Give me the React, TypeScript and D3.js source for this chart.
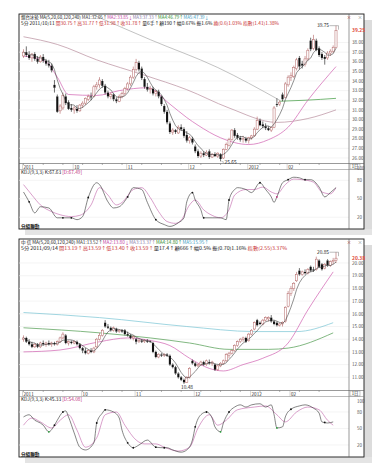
import React from "react";
import * as d3 from "d3";

// ---------------- TOP CHART DATA ----------------
const topOpen = [
  36.6,37.0,36.7,36.4,36.8,36.3,36.0,36.5,36.1,35.8,
  35.6,33.6,32.4,30.9,31.2,32.4,31.8,31.2,31.0,31.1,
  30.9,31.5,31.7,32.1,32.4,32.4,33.4,33.6,34.0,33.5,
  32.8,32.4,32.6,32.1,31.9,32.4,32.7,33.2,33.7,34.4,
  35.2,35.9,35.3,34.2,33.4,33.1,33.2,32.7,32.9,32.4,
  31.4,30.8,29.6,28.7,28.9,28.6,29.2,29.0,28.4,27.8,
  28.0,27.2,26.7,26.2,26.5,26.3,26.7,26.1,26.4,26.2,
  26.4,26.0,26.9,27.3,27.9,28.9,28.4,28.1,27.9,28.0,
  27.8,28.1,28.3,29.0,29.9,29.5,29.3,29.1,28.9,29.2,
  31.6,31.6,32.6,32.3,33.6,34.4,34.5,35.3,36.4,35.8,
  35.7,36.3,38.2,37.4,38.2,37.4,36.8,36.5,36.4,36.9,37.1,37.5];
const topHigh = [
  37.3,37.6,37.1,36.9,37.0,36.6,36.7,36.8,36.3,36.2,
  35.8,34.1,32.6,31.6,32.8,32.7,32.0,31.6,31.4,31.5,
  31.6,31.9,32.3,32.6,32.8,33.6,33.9,34.4,34.2,33.7,
  33.0,32.8,32.7,32.3,32.6,32.9,33.4,33.9,34.6,35.5,
  36.3,36.1,35.5,34.4,33.8,33.5,33.4,33.1,33.1,32.5,
  31.6,31.0,29.8,29.1,29.0,29.4,29.5,29.2,28.8,28.3,
  28.2,27.4,26.9,26.7,26.7,26.8,26.9,26.5,26.6,26.6,
  26.5,27.0,27.6,28.1,29.0,29.1,28.6,28.3,28.3,28.2,
  28.2,28.4,29.2,30.3,30.1,29.8,29.6,29.3,29.3,31.4,
  32.2,32.0,32.8,33.9,34.6,34.9,35.6,36.4,36.6,36.1,
  36.6,37.4,38.5,38.8,38.4,37.6,37.0,36.7,37.1,37.3,37.7,39.75];
const topLow = [
  36.4,36.5,36.2,36.0,36.1,35.8,35.9,35.9,35.6,35.4,
  34.9,32.8,30.7,30.6,31.0,31.5,31.0,30.8,30.6,30.7,
  30.8,31.2,31.5,31.9,32.0,32.3,33.1,33.3,33.3,32.6,
  32.2,32.1,31.9,31.7,31.8,32.2,32.5,33.0,33.5,34.2,
  35.0,35.0,34.1,33.2,32.9,32.7,32.5,32.4,32.2,31.4,
  30.6,29.5,28.5,28.4,28.5,28.5,28.8,28.1,27.6,27.5,
  27.4,26.5,26.0,26.0,26.1,26.2,25.9,26.0,26.1,26.0,
  25.65,25.9,26.8,27.2,27.8,28.1,27.9,27.7,27.6,27.6,
  27.5,27.9,28.2,28.9,29.3,29.1,28.9,28.8,28.7,29.1,
  31.3,31.4,31.9,32.2,33.4,34.0,34.3,35.1,35.2,35.3,
  35.5,36.1,37.1,37.2,37.1,36.5,36.2,35.7,36.2,36.6,36.9,37.4];
const topClose = [
  37.0,36.7,36.4,36.8,36.3,36.0,36.5,36.1,35.8,35.6,
  35.1,33.3,30.8,31.4,32.5,31.7,31.1,31.0,31.2,30.9,
  31.5,31.7,32.2,32.4,32.3,33.4,33.6,34.1,33.5,32.8,
  32.4,32.6,32.1,31.9,32.4,32.7,33.2,33.7,34.4,35.2,
  35.9,35.2,34.3,33.4,33.1,33.2,32.7,32.9,32.4,31.6,
  30.8,29.7,28.7,28.9,28.7,29.2,29.0,28.3,27.8,28.1,
  27.6,26.7,26.2,26.5,26.3,26.6,26.1,26.4,26.2,26.5,
  25.9,26.9,27.4,27.9,28.9,28.3,28.1,27.9,28.0,27.8,
  28.1,28.3,29.0,29.9,29.4,29.3,29.1,28.9,29.2,31.2,
  31.5,31.8,32.1,33.7,34.4,34.6,35.4,36.2,35.5,35.6,
  36.3,37.2,37.3,38.3,37.2,36.7,36.4,36.3,36.9,37.1,37.5,39.25];

const topMA20: [number, number][] = [[0,36.6],[8,36.0],[12,34.4],[16,32.6],[26,32.5],[34,33.0],[44,33.3],[52,31.6],[58,30.2],[62,29.4],[70,28.1],[80,27.4],[87,27.9],[94,29.2],[101,32.0],[111,35.5]];
const topMA60: [number, number][] = [[0,38.6],[12,37.8],[26,36.2],[43,34.6],[58,33.1],[73,31.2],[90,29.7],[101,30.1],[111,31.0]];
const topMA120: [number, number][] = [[23,41.1],[45,38.3],[69,35.4],[91,32.0]];
const topMA240: [number, number][] = [[91,31.9],[100,32.0],[111,32.2]];

const topK: [number, number][] = [[0,61],[2,45],[4,27],[6,37],[9,35],[12,19],[14,19],[17,19],[19,16],[21,21],[23,52],[26,76],[27,73],[30,45],[32,35],[34,37],[37,53],[39,68],[42,65],[44,44],[47,16],[50,8],[52,5],[55,11],[57,19],[58,45],[60,60],[61,48],[63,32],[64,19],[67,19],[70,19],[72,16],[73,48],[75,65],[76,68],[79,65],[81,60],[84,76],[86,65],[88,53],[89,44],[90,53],[92,76],[94,81],[96,85],[98,84],[100,81],[102,81],[105,69],[107,53],[109,60],[111,68]];
const topD: [number, number][] = [[0,73],[3,56],[6,40],[10,29],[13,24],[17,21],[20,23],[24,40],[27,68],[30,56],[33,40],[35,44],[39,65],[42,68],[45,52],[48,29],[51,13],[54,10],[56,15],[59,40],[61,48],[64,32],[67,23],[70,19],[73,32],[75,56],[79,65],[82,65],[85,69],[88,61],[90,58],[93,73],[96,82],[99,81],[103,77],[106,61],[109,58],[111,68]];
const topMarks = [2,14,17,23,37,47,60,64,73,84,94,100];
const topMarksAlt = [90];

const topPriceTicks = [26,27,28,29,30,31,32,33,34,35,36,37,38];
const topDates: [number, string][] = [[0,"2011"],[18,"10"],[37,"11"],[59,"12"],[80,"2012"],[94,"02"]];

// ---------------- BOTTOM CHART DATA ----------------
const botOpen = [
  14.0,14.1,13.8,13.6,13.4,13.6,13.4,13.7,13.6,13.7,
  13.6,13.7,13.6,13.8,14.1,14.3,13.7,13.8,13.7,13.8,
  13.6,13.3,13.1,12.9,13.1,13.0,13.4,14.0,14.3,15.3,
  15.0,14.9,14.7,14.8,14.6,14.7,14.7,14.4,14.3,14.1,
  14.0,13.8,13.9,13.8,13.9,13.85,13.7,13.0,12.6,12.8,
  12.7,12.8,12.7,12.0,11.8,11.3,11.0,10.8,10.6,11.0,
  12.3,12.1,11.9,12.0,12.2,12.0,12.2,12.1,12.0,11.6,
  11.9,12.1,12.3,12.7,12.9,13.1,13.5,13.8,14.0,14.1,
  13.9,14.4,14.8,15.5,15.3,15.2,15.5,15.6,15.7,15.4,
  15.3,15.1,15.2,15.4,16.6,17.6,18.0,18.6,19.4,19.1,
  19.3,19.2,19.7,19.5,19.5,20.2,19.9,19.6,20.2,19.8,20.1,20.2];
const botHigh = [
  14.3,14.2,14.0,13.8,13.7,13.7,13.8,13.9,13.8,13.9,
  13.8,13.8,13.9,14.2,14.55,14.4,13.9,13.9,13.9,13.9,
  13.7,13.4,13.3,13.2,13.3,13.4,14.1,14.5,14.8,15.5,
  15.2,15.0,15.0,14.9,14.8,14.8,14.8,14.6,14.4,14.3,
  14.1,14.0,14.0,14.0,14.0,13.9,13.8,13.1,12.9,12.9,
  12.9,12.9,12.8,12.1,11.9,11.4,11.1,10.9,11.1,11.8,
  12.4,12.2,12.1,12.3,12.3,12.4,12.4,12.3,12.1,12.0,
  12.2,12.4,12.9,13.0,13.2,13.6,13.9,14.1,14.2,14.2,
  14.5,14.8,15.4,15.6,15.4,15.6,15.8,15.8,15.9,15.5,
  15.4,15.3,15.4,16.6,17.8,18.2,18.5,19.3,19.6,19.4,
  19.5,19.6,19.8,19.7,20.5,20.3,20.0,20.0,20.3,20.2,20.4,20.85];
const botLow = [
  13.8,13.7,13.5,13.3,13.3,13.3,13.3,13.5,13.4,13.5,
  13.4,13.5,13.5,13.7,14.0,13.6,13.5,13.6,13.6,13.5,
  13.2,12.9,12.8,12.8,12.9,12.9,13.3,13.9,14.2,14.9,
  14.8,14.6,14.6,14.5,14.5,14.5,14.3,14.2,14.0,13.9,
  13.6,13.7,13.7,13.7,13.7,13.7,12.9,12.5,12.5,12.6,
  12.6,12.6,11.9,11.7,11.2,10.9,10.7,10.48,10.55,10.9,
  12.0,11.8,11.8,11.9,11.9,11.9,12.0,11.9,11.5,11.5,
  11.8,12.0,12.2,12.5,12.8,13.0,13.4,13.7,13.8,13.7,
  13.8,14.3,14.7,15.0,15.1,15.1,15.4,15.4,15.3,15.1,
  15.0,15.0,15.0,15.3,16.5,17.4,17.8,18.5,19.0,19.0,
  19.1,19.1,19.3,19.3,19.4,19.6,19.4,19.5,19.7,19.7,19.9,20.0];
const botClose = [
  14.1,13.8,13.6,13.4,13.6,13.4,13.7,13.6,13.7,13.6,
  13.7,13.6,13.8,14.1,14.4,13.7,13.8,13.7,13.8,13.6,
  13.3,13.1,12.9,13.1,13.0,13.3,14.0,14.3,14.7,15.0,
  14.9,14.7,14.9,14.6,14.7,14.6,14.4,14.3,14.1,14.2,
  13.8,13.9,13.8,13.9,13.8,13.8,13.0,12.6,12.8,12.7,
  12.8,12.7,12.0,11.8,11.3,11.0,10.8,10.6,11.0,11.7,
  12.1,11.9,12.0,12.2,12.0,12.3,12.1,12.2,11.6,11.9,
  12.1,12.3,12.8,12.9,13.1,13.5,13.8,14.0,14.1,13.8,
  14.4,14.7,15.3,15.1,15.2,15.5,15.7,15.7,15.4,15.2,
  15.1,15.2,15.3,16.5,17.6,18.0,18.4,19.1,19.1,19.3,
  19.2,19.5,19.4,19.4,20.3,19.7,19.5,19.9,19.8,20.1,20.2,20.38];

const botMA20: [number, number][] = [[0,13.0],[13,13.15],[27,13.8],[37,14.1],[45,13.9],[52,13.5],[59,12.5],[66,11.7],[71,11.5],[78,12.0],[85,12.5],[94,13.7],[101,16.3],[110,19.3]];
const botMA60: [number, number][] = [[0,14.9],[27,14.5],[45,14.1],[59,13.7],[73,13.2],[87,13.2],[94,13.3],[110,14.5]];
const botMA120: [number, number][] = [[0,16.1],[27,15.7],[58,15.0],[82,14.6],[97,14.6],[110,15.3]];

const botK: [number, number][] = [[0,71],[2,75],[4,65],[6,60],[7,56],[9,44],[11,56],[12,65],[14,80],[15,82],[16,71],[18,42],[20,16],[22,11],[25,24],[26,60],[28,78],[29,84],[32,80],[34,69],[35,47],[37,24],[39,15],[41,20],[44,29],[47,16],[50,15],[51,15],[53,11],[56,7],[58,11],[60,29],[61,53],[63,75],[65,80],[67,69],[68,53],[70,44],[71,60],[73,80],[75,89],[77,93],[79,89],[81,93],[84,95],[86,89],[88,93],[89,75],[90,51],[92,53],[93,71],[95,85],[98,91],[100,93],[103,87],[105,78],[106,62],[108,60],[110,62]];
const botD: [number, number][] = [[0,56],[3,69],[6,62],[10,51],[13,65],[16,75],[19,47],[22,16],[26,33],[29,75],[33,80],[36,56],[40,29],[43,22],[47,22],[50,16],[55,9],[59,16],[62,51],[66,75],[69,56],[72,65],[76,84],[82,89],[86,91],[90,75],[93,62],[97,80],[101,89],[105,84],[108,65],[110,56]];
const botMarks = [11,14,26,29,37,39,47,50,61,65,73,95,107];
const botMarksAlt = [9,70,90];

const botPriceTicks = [11,12,13,14,15,16,17,18,19,20];
const botDates: [number, string][] = [[0,"2011"],[21,"10"],[40,"11"],[61,"12"],[81,"2012"],[95,"02"]];

const FONT = "'Noto Sans CJK TC','DejaVu Sans',sans-serif";
const RED = "#c83030";

type Seg = [string, string];

const topHeader1: Seg[] = [["烟台冰轮 ", "#111"], ["MA(5,20,60,120,240) ", "#111"], ["MA1:32.05↑", "#333"], ["MA2:33.85↓", "#c040a0"], ["MA3:37.33↑", "#8a7aa8"], ["MA4:46.79↑", "#2a8a2a"], ["MA5:47.39↓", "#3a9ac0"]];
const topHeader2: Seg[] = [["5分 2011/10/11 ", "#111"], ["開30.75↑", RED], ["高31.77↑", RED], ["低31.98↑", RED], ["收31.78↑", RED], ["量6手↑", "#111"], ["額190↑", "#111"], ["幅0.67% ", "#111"], ["振1.6% ", "#111"], ["換(0.6)1.03% ", RED], ["指數(1.41)1.38%", RED]];
const botHeader1: Seg[] = [["中 信 ", "#111"], ["MA(5,20,60,120,240) ", "#111"], ["MA1:13.52↑", "#333"], ["MA2:13.80↓", "#c040a0"], ["MA3:13.37↑", "#8a7aa8"], ["MA4:14.80↑", "#2a8a2a"], ["MA5:15.95↑", "#3a9ac0"]];
const botHeader2: Seg[] = [["5分 2011/09/14 ", "#111"], ["開13.19↑", RED], ["高13.59↑", RED], ["低13.40↑", RED], ["收13.59↑", RED], ["量17.4↑", "#111"], ["額666↑", "#111"], ["幅0.5% ", "#111"], ["振(0.70)1.16% ", "#111"], ["指數(2.55)3.37%", RED]];

const topCfg = {
  id: "a", open: topOpen, high: topHigh, low: topLow, close: topClose,
  priceDomain: [26, 39], priceRange: [158, 32.9], priceTicks: topPriceTicks,
  lastLabel: "39.25", last: 39.25,
  hiIdx: 111, hiLabel: "39.75", loIdx: 70, loLabel: "25.65", loBelow: false,
  top: 14, bottom: 229, dTop: 163.5, dBot: 169.5, kdjRange: [229.5, 168],
  kdjTicks: [20, 50, 80, 100],
  K: topK, D: topD, marks: topMarks, marksAlt: topMarksAlt, altColor: "#c03080",
  mas: [
    { pts: topMA120, color: "#a8a8a8" },
    { pts: topMA240, color: "#3c9a3c" },
    { pts: topMA60, color: "#b88c9c" },
    { pts: topMA20, color: "#d060b0" },
  ],
  dates: topDates, h1: topHeader1, h2: topHeader2, h1w: 188, h2w: 258,
  kLabel: "K:67.63", dLabel: "D:67.49",
};

const botCfg = {
  id: "b", open: botOpen, high: botHigh, low: botLow, close: botClose,
  priceDomain: [11, 20], priceRange: [377.3, 263], priceTicks: botPriceTicks,
  lastLabel: "20.38", last: 20.38,
  hiIdx: 111, hiLabel: "20.85", loIdx: 57, loLabel: "10.48", loBelow: true,
  top: 239, bottom: 457, dTop: 390.5, dBot: 396.5, kdjRange: [456, 401],
  kdjTicks: [20, 50, 80, 100],
  K: botK, D: botD, marks: botMarks, marksAlt: botMarksAlt, altColor: "#2a9a3a",
  mas: [
    { pts: botMA120, color: "#78c4d4" },
    { pts: botMA60, color: "#4c9a4c" },
    { pts: botMA20, color: "#d060b0" },
  ],
  dates: botDates, h1: botHeader1, h2: botHeader2, h1w: 188, h2w: 266,
  kLabel: "K:45.33", dLabel: "D:54.08",
};

function valAt(pts: [number, number][], i: number) {
  for (let j = 0; j < pts.length - 1; j++) {
    const a = pts[j], b = pts[j + 1];
    if (i >= a[0] && i <= b[0]) return a[1] + ((b[1] - a[1]) * (i - a[0])) / (b[0] - a[0] || 1);
  }
  return pts[pts.length - 1][1];
}

function Chart({ cfg }: { cfg: any }) {
  const L = 19, R = 364, SEP = 349;
  const { top, bottom, dTop, dBot, id } = cfg;
  const x = d3.scaleLinear().domain([0, 111]).range([23.5, 336]);
  const y = d3.scaleLinear().domain(cfg.priceDomain).range(cfg.priceRange);
  const yk = d3.scaleLinear().domain([0, 100]).range(cfg.kdjRange);
  const pLine = d3.line<[number, number]>().x((d) => x(d[0])).y((d) => y(d[1])).curve(d3.curveMonotoneX);
  const kLine = d3.line<[number, number]>().x((d) => x(d[0])).y((d) => yk(d[1])).curve(d3.curveMonotoneX);
  const close: number[] = cfg.close;
  const ma5: [number, number][] = close.map((_, i) => [i, d3.mean(close.slice(Math.max(0, i - 4), i + 1)) as number]);
  const ma5Line = d3.line<[number, number]>().x((d) => x(d[0])).y((d) => y(d[1]));
  const hx = x(cfg.hiIdx), hy = y(cfg.high[cfg.hiIdx]);
  const lx = x(cfg.loIdx), ly = y(cfg.low[cfg.loIdx]);
  return (
    <g>
      <defs>
        <clipPath id={`m${id}`}><rect x={L} y={top} width={SEP - L} height={dTop - top} /></clipPath>
        <clipPath id={`k${id}`}><rect x={L} y={dBot} width={SEP - L} height={bottom - dBot} /></clipPath>
      </defs>
      {/* shadow */}
      <rect x={R} y={top + 6} width={8} height={bottom - top} fill="#dcdcdc" />
      <rect x={L + 6} y={bottom} width={R - L + 2} height={6} fill="#e4e4e4" />
      <rect x={L} y={top} width={R - L} height={bottom - top} fill="#fff" stroke="#1a1a1a" strokeWidth={0.9} />
      {/* grid */}
      {cfg.priceTicks.map((p: number) => (
        <line key={p} x1={L} x2={SEP} y1={y(p)} y2={y(p)} stroke="#ececec" strokeWidth={0.6} />
      ))}
      {cfg.kdjTicks.slice(0, 3).map((v: number) => (
        <line key={v} x1={L} x2={SEP} y1={yk(v)} y2={yk(v)} stroke="#ececec" strokeWidth={0.6} />
      ))}
      {/* MA lines */}
      <g clipPath={`url(#m${id})`} fill="none">
        {cfg.mas.map((m: any, i: number) => (
          <path key={i} d={pLine(m.pts) as string} stroke={m.color} strokeWidth={0.7} />
        ))}
        {/* candles */}
        {cfg.open.map((o: number, i: number) => {
          const c = close[i], h = cfg.high[i], l = cfg.low[i];
          const up = c >= o;
          const cx = x(i);
          const yt = y(Math.max(o, c)), yb = y(Math.min(o, c));
          const col = up ? "#b06060" : "#111";
          return (
            <g key={i}>
              <line x1={cx} x2={cx} y1={y(h)} y2={yt} stroke={col} strokeWidth={0.6} />
              <line x1={cx} x2={cx} y1={yb} y2={y(l)} stroke={col} strokeWidth={0.6} />
              <rect x={cx - 1.05} y={yt} width={2.1} height={Math.max(0.6, yb - yt)}
                fill={up ? "#fff" : "#111"} stroke={up ? col : "none"} strokeWidth={0.5} />
            </g>
          );
        })}
        <path d={ma5Line(ma5) as string} stroke="#333" strokeWidth={0.55} />
      </g>
      {/* high / low annotations */}
      <text x={hx - 7} y={hy + 1.8} fontSize={4.8} textAnchor="end" fill="#222">{cfg.hiLabel}</text>
      <polyline points={`${hx - 6.5},${hy} ${hx + 2.5},${hy} ${hx + 2.5},${hy + 4}`} fill="none" stroke="#777" strokeWidth={0.5} />
      {cfg.loBelow ? (
        <text x={lx - 3} y={ly + 5.5} fontSize={4.8} fill="#222">{cfg.loLabel}</text>
      ) : (
        <g>
          <line x1={lx + 1} x2={lx + 3.5} y1={ly} y2={ly + 1} stroke="#777" strokeWidth={0.5} />
          <text x={lx + 4} y={ly + 2.5} fontSize={4.8} fill="#222">{cfg.loLabel}</text>
        </g>
      )}
      {/* header */}
      <text x={21} y={top + 4.6} fontSize={4.4} textLength={cfg.h1w} lengthAdjust="spacingAndGlyphs">
        {cfg.h1.map((s: Seg, i: number) => <tspan key={i} fill={s[1]}>{s[0]}</tspan>)}
      </text>
      <text x={21} y={top + 11.2} fontSize={4.4} textLength={cfg.h2w} lengthAdjust="spacingAndGlyphs">
        {cfg.h2.map((s: Seg, i: number) => <tspan key={i} fill={s[1]}>{s[0]}</tspan>)}
      </text>
      <text x={349} y={top + 4.5} fontSize={4.5} fill="#d04040" textAnchor="middle">×</text>
      <text x={360} y={top + 4.5} fontSize={4.5} fill="#888" textAnchor="middle">×</text>
      {/* right axis */}
      <line x1={SEP} x2={SEP} y1={top} y2={bottom} stroke="#555" strokeWidth={0.6} />
      {cfg.priceTicks.map((p: number) => (
        <text key={p} x={352} y={y(p) + 1.7} fontSize={4.6} fill="#555">{p.toFixed(2)}</text>
      ))}
      <rect x={350.5} y={y(cfg.last) - 3} width={12} height={6} fill="#fff" />
      <text x={352} y={y(cfg.last) + 1.8} fontSize={4.9} fill="#e04a3a" fontWeight="bold">{cfg.lastLabel}</text>
      {/* date row */}
      <line x1={L} x2={R} y1={dTop} y2={dTop} stroke="#555" strokeWidth={0.6} />
      <line x1={L} x2={R} y1={dBot} y2={dBot} stroke="#777" strokeWidth={0.5} />
      {d3.range(0, 112, 7).map((i) => (
        <line key={i} x1={x(i)} x2={x(i)} y1={dTop} y2={dTop + 1.5} stroke="#666" strokeWidth={0.5} />
      ))}
      {cfg.dates.map((d: [number, string]) => (
        <g key={d[1]}>
          <line x1={x(d[0]) - 1} x2={x(d[0]) - 1} y1={dTop} y2={dBot} stroke="#999" strokeWidth={0.4} />
          <text x={x(d[0])} y={dBot - 1} fontSize={4.6} fill="#333">{d[1]}</text>
        </g>
      ))}
      <rect x={350} y={dTop + 0.5} width={10} height={dBot - dTop - 1} fill="#fff" stroke="#777" strokeWidth={0.4} />
      <text x={355} y={dBot - 1.2} fontSize={4.3} textAnchor="middle" fill="#333">1日</text>
      {/* KDJ */}
      <text x={21} y={dBot + 4.8} fontSize={4.8} fill="#222">
        <tspan>KDJ(9,3,3) </tspan><tspan>{cfg.kLabel} </tspan><tspan fill="#c03080">[{cfg.dLabel}]</tspan>
      </text>
      <g clipPath={`url(#k${id})`} fill="none">
        <path d={kLine(cfg.D) as string} stroke="#c060a8" strokeWidth={0.6} />
        <path d={kLine(cfg.K) as string} stroke="#333" strokeWidth={0.6} />
        {cfg.marks.map((i: number) => (
          <circle key={i} cx={x(i)} cy={yk(valAt(cfg.K, i))} r={0.9} fill="#111" />
        ))}
        {cfg.marksAlt.map((i: number) => (
          <circle key={`a${i}`} cx={x(i)} cy={yk(valAt(cfg.K, i))} r={0.9} fill={cfg.altColor} />
        ))}
      </g>
      {cfg.kdjTicks.map((v: number) => (
        <text key={v} x={357} y={yk(v) + 1.6} fontSize={4.5} fill="#555">{v}</text>
      ))}
      <text x={21} y={bottom - 1.2} fontSize={4.6} fontWeight="bold" fill="#111">分組聯動</text>
    </g>
  );
}

export default function App() {
  return (
    <svg width={378} height={473} style={{ position: "absolute", left: 0, top: 0, background: "#fff" }} fontFamily={FONT}>
      <rect width={378} height={473} fill="#fff" />
      <Chart cfg={topCfg} />
      <Chart cfg={botCfg} />
    </svg>
  );
}
